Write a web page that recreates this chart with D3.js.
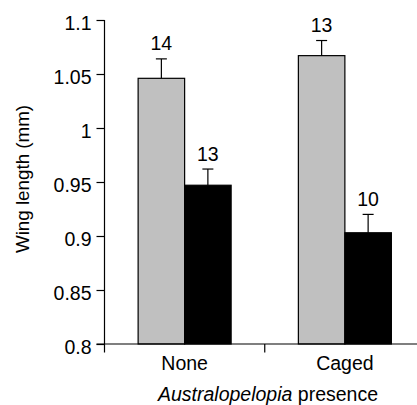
<!DOCTYPE html>
<html>
<head>
<meta charset="utf-8">
<script src="https://cdn.jsdelivr.net/npm/d3@7"></script>
<style>
  html, body { margin: 0; padding: 0; background: #fff; }
  text { font-family: "Liberation Sans", Arial, Helvetica, sans-serif; fill: #000; }
</style>
</head>
<body>
<svg id="chart" width="417" height="405"></svg>
<script>
const categories = ["None", "Caged"];
const groups = ["g1", "g2"];
const means = [[1.046, 0.947], [1.067, 0.903]];
const errors = [[0.018, 0.015], [0.014, 0.017]];
const counts = [[14, 13], [13, 10]];
const yTicks = [0.8, 0.85, 0.9, 0.95, 1, 1.05, 1.1];
const colors = ["#c0c0c0", "#000000"];

const svg = d3.select("#chart");
const fs = 19.5;

const x0 = d3.scaleBand().domain(categories).range([104.5, 425]).paddingInner(0).paddingOuter(0);
const x1 = d3.scaleBand().domain(groups).range([0, x0.bandwidth()]).paddingInner(0).paddingOuter(0.723);
const y = d3.scaleLinear().domain([0.8, 1.1]).range([344, 20]);

// bars
categories.forEach((c, i) => {
  const g = svg.append("g").attr("transform", `translate(${x0(c)},0)`);
  groups.forEach((s, j) => {
    const v = means[i][j], e = errors[i][j];
    const bx = x1(s), bw = x1.bandwidth();
    const cx = bx + bw / 2;
    // error bar
    g.append("line").attr("x1", cx).attr("x2", cx).attr("y1", y(v)).attr("y2", y(v + e))
      .attr("stroke", "#000").attr("stroke-width", 1.2);
    g.append("line").attr("x1", cx - 5.5).attr("x2", cx + 5.5).attr("y1", y(v + e)).attr("y2", y(v + e))
      .attr("stroke", "#000").attr("stroke-width", 1.2);
    g.append("rect").attr("x", bx).attr("y", y(v)).attr("width", bw).attr("height", y(0.8) - y(v))
      .attr("fill", colors[j]).attr("stroke", "#000").attr("stroke-width", 1.2);
    g.append("text").attr("x", cx).attr("y", y(v + e) - 8.5).attr("text-anchor", "middle")
      .style("font-size", fs + "px").text(counts[i][j]);
  });
});

// y axis
const yAxis = d3.axisLeft(y).tickValues(yTicks).tickSize(8).tickPadding(5).tickFormat(d3.format("~g"));
const ya = svg.append("g").attr("transform", "translate(104.5,0)").call(yAxis);
ya.select(".domain").attr("d", "M0,20V352.5").attr("stroke", "#000").attr("stroke-width", 1.2);
ya.selectAll(".tick line").attr("stroke-width", 1.2);
ya.selectAll(".tick text").style("font-size", fs + "px").attr("dy", null).attr("y", 9)
  .style("font-family", '"Liberation Sans", Arial, sans-serif').attr("fill", "#000");

// x axis
const xBounds = categories.map(c => x0(c)).concat([x0.range()[1]]);
const xa = svg.append("g").attr("transform", "translate(0,344)");
xa.append("line").attr("x1", 96.5).attr("x2", 425).attr("y1", 0).attr("y2", 0)
  .attr("stroke", "#000").attr("stroke-width", 1.2);
xa.selectAll("line.tk").data(xBounds.slice(1)).join("line").attr("class", "tk")
  .attr("x1", d => d).attr("x2", d => d).attr("y1", 0).attr("y2", 8.5)
  .attr("stroke", "#000").attr("stroke-width", 1.2);
xa.selectAll("text.cat").data(categories).join("text").attr("class", "cat")
  .attr("x", d => x0(d) + x0.bandwidth() / 2).attr("y", 26).attr("text-anchor", "middle")
  .style("font-size", fs + "px").text(d => d);

// axis titles
const xt = svg.append("text").attr("x", 268).attr("y", 401).attr("text-anchor", "middle")
  .style("font-size", fs + "px");
xt.append("tspan").style("font-style", "italic").text("Australopelopia");
xt.append("tspan").text(" presence");

svg.append("text").attr("transform", "translate(28.5,179) rotate(-90)").attr("text-anchor", "middle")
  .style("font-size", "18.8px").text("Wing length (mm)");
</script>
</body>
</html>
